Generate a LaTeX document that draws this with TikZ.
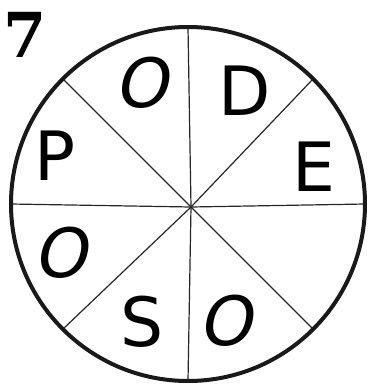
\documentclass[tikz,border=0pt]{standalone}
\usepackage{fontspec}
\setmainfont{DejaVu Sans}
\newfontfamily\sevenfont{DejaVu Serif}
\usetikzlibrary{calc}
\begin{document}
\begin{tikzpicture}[x=1pt,y=-1pt,
  letter/.style={inner sep=0pt,font=\fontsize{68}{68}\selectfont},
  ovalletter/.style={letter,xslant=0.2},
  spoke/.style={line width=1.2pt,black!85},
  rim/.style={line width=4pt,black!90}]
\useasboundingbox (0,0) rectangle (369,384);
\coordinate (C) at (188,204);
\coordinate (H) at (191,207);
\foreach \a in {0,45,...,315}{
  \coordinate (e\a) at ($(C)+(\a:177)$);
  \draw[spoke] (H) -- (e\a);
}
\draw[rim] (C) circle[radius=177];
\node[letter,font=\sevenfont\bfseries\fontsize{62}{62}\selectfont] (seven) at (25,35) {7};
\node[ovalletter] (o1) at (146,83) {O};
\node[letter] (d) at (245,91) {D};
\node[letter] (e) at (314,167) {E};
\node[letter] (p) at (55,156) {P};
\node[ovalletter] (o2) at (65,253) {O};
\node[letter] (s) at (142,322) {S};
\node[ovalletter] (o3) at (230,321) {O};
\end{tikzpicture}
\end{document}
